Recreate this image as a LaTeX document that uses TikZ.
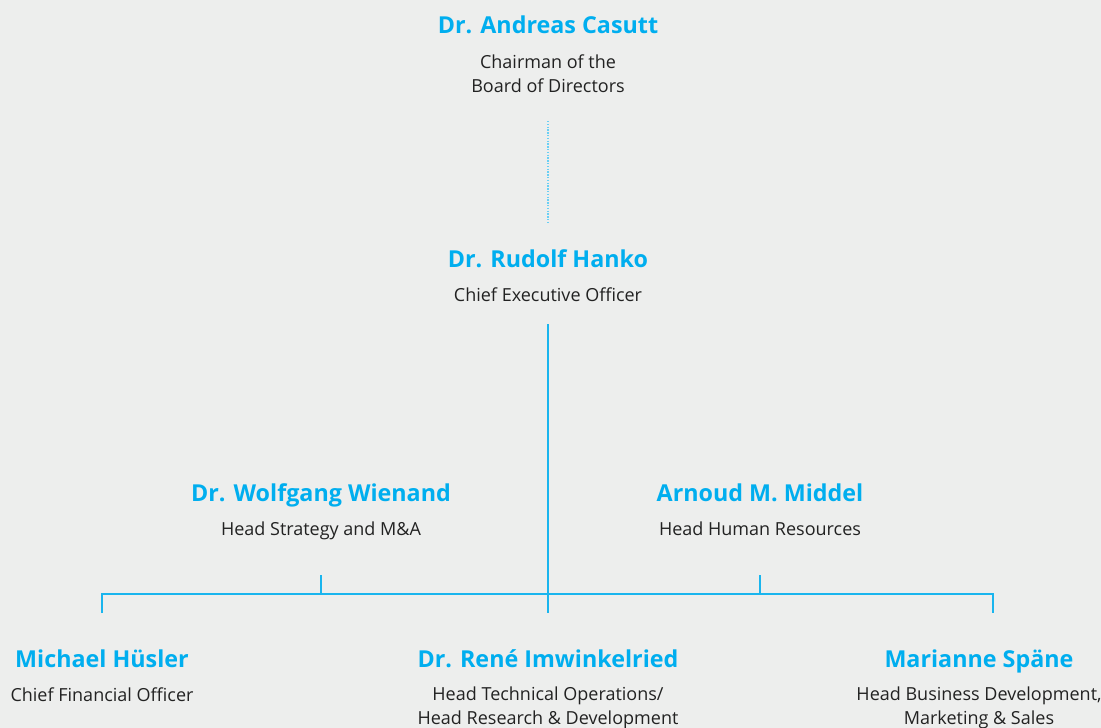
\documentclass[tikz,border=0pt]{standalone}
\usepackage{fontspec}
\setmainfont{Open Sans}
\definecolor{bgcol}{HTML}{EDEEED}
\definecolor{namecol}{HTML}{00AEEF}
\definecolor{linecol}{HTML}{1AB5EE}
\definecolor{txtcol}{HTML}{222222}
\begin{document}
\begin{tikzpicture}[x=1pt,y=-1pt,
  pname/.style={font=\fontsize{23.3}{26}\selectfont\bfseries, text=namecol, inner sep=0pt, anchor=base},
  prole/.style={font=\fontsize{18}{24}\selectfont, text=txtcol, inner sep=0pt, anchor=base, align=center},
  conn/.style={draw=linecol, line width=1.3pt},
  dotconn/.style={draw=linecol!65, line width=1.3pt, dash pattern=on 1.3pt off 1.5pt}]
\fill[bgcol] (0,0) rectangle (1101,728);
\useasboundingbox (0,0) rectangle (1101,728);

\node[pname] (casN) at (548,33) {Dr. Andreas Casutt};
\node[prole] (casR) at (548,92) {Chairman of the\\Board of Directors};

\node[pname] (hanN) at (548,267) {Dr. Rudolf Hanko};
\node[prole] (hanR) at (548,301) {Chief Executive Officer};

\node[pname] (wieN) at (321,501) {Dr. Wolfgang Wienand};
\node[prole] (wieR) at (321,535) {Head Strategy and M\&A};

\node[pname] (midN) at (760,501) {Arnoud M. Middel};
\node[prole] (midR) at (760,535) {Head Human Resources};

\node[pname] (husN) at (102,667) {Michael Hüsler};
\node[prole] (husR) at (102,701) {Chief Financial Officer};

\node[pname] (imwN) at (548,667) {Dr. René Imwinkelried};
\node[prole] (imwR) at (548,724) {Head Technical Operations/\\Head Research \& Development};

\node[pname] (spaN) at (979,667) {Marianne Späne};
\node[prole] (spaR) at (979,724) {Head Business Development,\\Marketing \& Sales};

\coordinate (dTop) at (548,121);
\coordinate (dBot) at (548,224);
\coordinate (vTop) at (548,324);
\coordinate (vBot) at (548,613);
\coordinate (busL) at (102,594);
\coordinate (busR) at (993,594);
\coordinate (dropL) at (102,613);
\coordinate (dropR) at (993,613);
\coordinate (stubW) at (321,575);
\coordinate (stubM) at (760,575);

\draw[dotconn] (dTop) -- (dBot);
\draw[conn] (vTop) -- (vBot);
\draw[conn] (dropL) -- (busL) -- (busR) -- (dropR);
\draw[conn] (stubW) -- (stubW |- busL);
\draw[conn] (stubM) -- (stubM |- busL);
\end{tikzpicture}
\end{document}
